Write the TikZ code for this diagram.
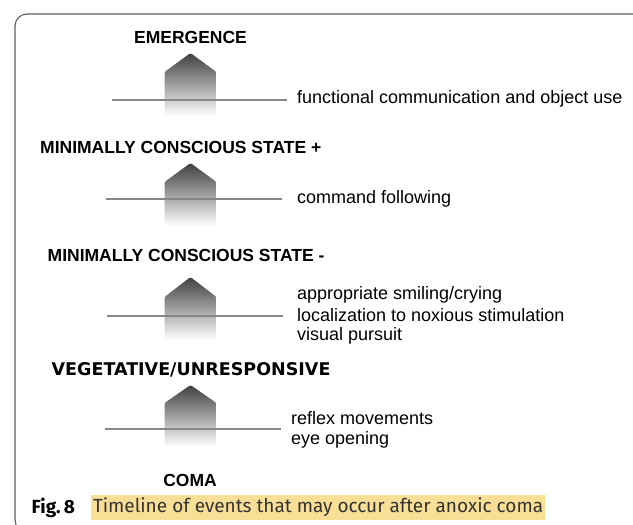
\documentclass[tikz,border=0pt]{standalone}
\usepackage{fontspec}
\setmainfont{Liberation Sans}
\newfontfamily\vegfont{DejaVu Sans}
\newfontfamily\capfont{Fira Sans}
\usetikzlibrary{positioning}
\definecolor{hilite}{RGB}{249,223,150}
\definecolor{framegray}{RGB}{95,95,95}
\definecolor{levelgray}{RGB}{135,135,135}
\tikzset{
  state/.style={inner sep=0pt, font=\fontsize{17.5}{21}\selectfont\bfseries},
  event/.style={inner sep=0pt, anchor=west, font=\fontsize{18}{21}\selectfont},
  level/.style={draw=levelgray, line width=1.6pt},
  rise/.style={top color=black!75, bottom color=white, draw=none, rounded corners=1.5pt},
}

\begin{document}
\begin{tikzpicture}[x=1pt, y=-1pt]

  \useasboundingbox (0,0) rectangle (633,525);
  \draw[framegray, line width=1.1pt, rounded corners=12pt] (15,14) rectangle (660,532);

  % rising steps
  \shade[rise] (164.5,116) -- (164.5,72) -- (190.5,53) -- (216.5,72) -- (216.5,116) -- cycle;
  \shade[rise] (164.5,226) -- (164.5,182) -- (190.5,163) -- (216.5,182) -- (216.5,226) -- cycle;
  \shade[rise] (164.5,340) -- (164.5,297) -- (190.5,277) -- (216.5,297) -- (216.5,340) -- cycle;
  \shade[rise] (164.5,447) -- (164.5,403) -- (190.5,385) -- (216.5,403) -- (216.5,447) -- cycle;

  \coordinate (l1a) at (112,100);  \coordinate (l1b) at (287,100);
  \coordinate (l2a) at (106,199);  \coordinate (l2b) at (282,199);
  \coordinate (l3a) at (107,316);  \coordinate (l3b) at (283,316);
  \coordinate (l4a) at (105,429);  \coordinate (l4b) at (281,429);
  \draw[level] (l1a) -- (l1b);
  \draw[level] (l2a) -- (l2b);
  \draw[level] (l3a) -- (l3b);
  \draw[level] (l4a) -- (l4b);

  \node[state] (emergence) at (190.5,37) {EMERGENCE};
  \node[state, anchor=west] (mcs-plus) at (40,147) {MINIMALLY CONSCIOUS STATE +};
  \node[state, anchor=west] (mcs-minus) at (47.5,255) {MINIMALLY CONSCIOUS STATE -};
  \node[state, anchor=west, font=\vegfont\fontsize{17.5}{21}\selectfont\bfseries] (vs-uws) at (51.5,370) {VEGETATIVE/UNRESPONSIVE};
  \node[state] (coma) at (190,480) {COMA};

  \node[event] (ev-func) at (297,99) {functional communication and object use};
  \node[event] (ev-cmd) at (297,199) {command following};
      \node[event] (ev-smile) at (297,295) {appropriate smiling/crying};
      \node[event] (ev-local) at (297,315.5) {localization to noxious stimulation};
      \node[event] (ev-pursuit) at (297,336) {visual pursuit};
  \node[event] (ev-reflex) at (291,418) {reflex movements};
  \node[event] (ev-eyes) at (291,439.5) {eye opening};

  % caption
  \node[anchor=west, inner sep=0pt, font=\capfont\fontsize{19}{22}\selectfont\bfseries] (fig) at (31.5,508) {Fig.\,8};
  \node[anchor=west, fill=hilite, inner xsep=2pt, inner ysep=0pt, minimum height=25pt, text=black!80,
        font=\capfont\fontsize{19}{22}\selectfont] (caption) at (90.8,507.5) {Timeline of events that may occur after anoxic coma};

\end{tikzpicture}
\end{document}
